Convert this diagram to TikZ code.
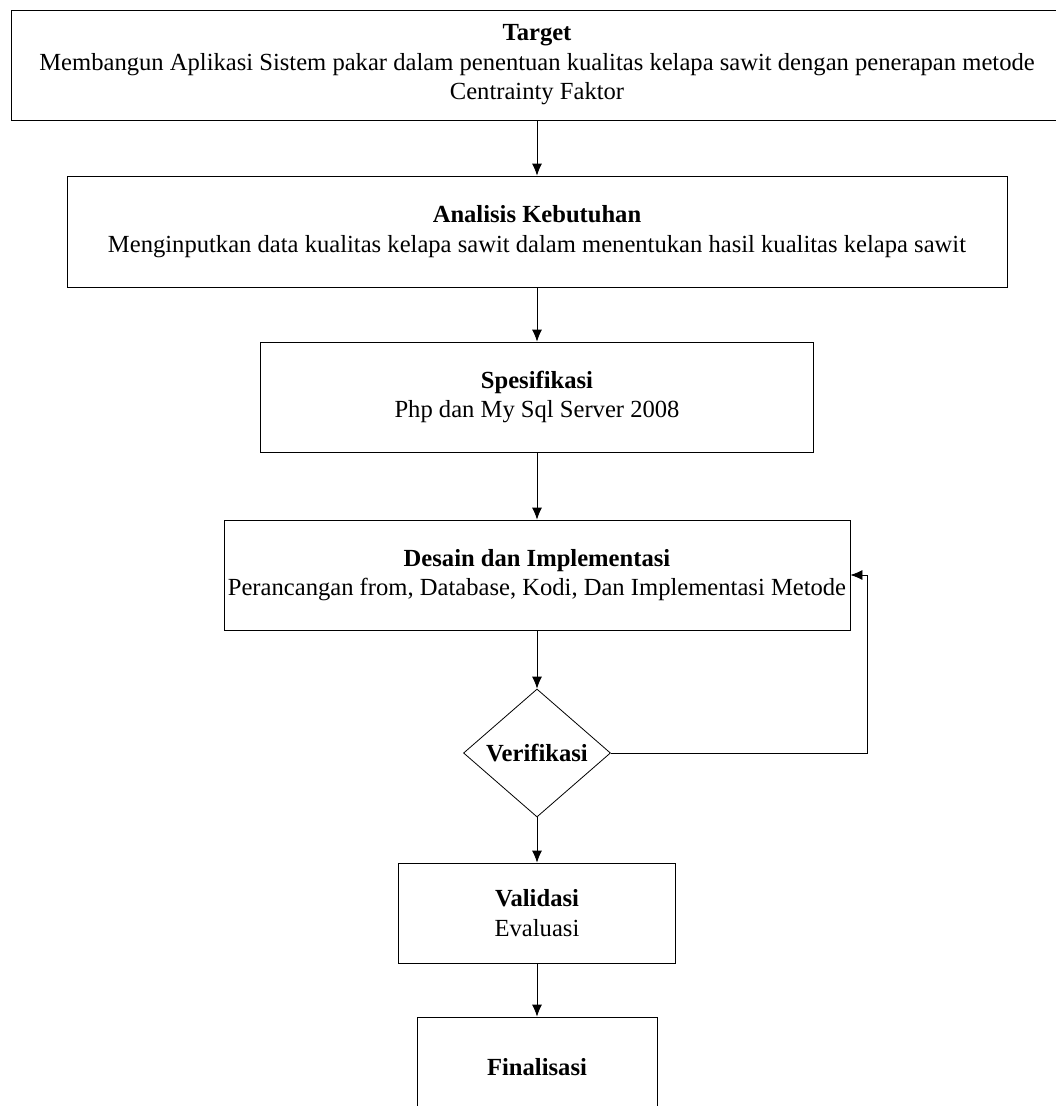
\documentclass[tikz,border=0pt]{standalone}
\usepackage{fontspec}
\setmainfont{Liberation Serif}
\usetikzlibrary{arrows.meta,shapes.geometric}

\begin{document}
\begin{tikzpicture}[x=1pt,y=-1pt, line width=0.8pt, >={Latex[length=12pt,width=10pt]},
    bnode/.style={draw,rectangle,align=center,inner sep=0pt,font=\fontsize{24.6}{29.5}\selectfont},
    dnode/.style={draw,diamond,inner sep=0pt,minimum width=147pt,minimum height=128pt,font=\fontsize{24.6}{29.5}\selectfont\bfseries}]
    \useasboundingbox (0,0) rectangle (1056,1106);
    \clip (0,0) rectangle (1056,1106);

    \node[bnode, minimum width=1052pt, minimum height=110pt] (t) at (537,65)
        {\textbf{Target}\\Membangun Aplikasi Sistem pakar dalam penentuan kualitas kelapa sawit dengan penerapan metode\\Centrainty Faktor};
    \node[bnode, minimum width=940pt, minimum height=111pt] (ak) at (537,231.5)
        {\textbf{Analisis Kebutuhan}\\Menginputkan data kualitas kelapa sawit dalam menentukan hasil kualitas kelapa sawit};
    \node[bnode, minimum width=553pt, minimum height=110pt] (s) at (537,397)
        {\textbf{Spesifikasi}\\Php dan My Sql Server 2008};
    \node[bnode, minimum width=626pt, minimum height=110pt] (d) at (537,575)
        {\textbf{Desain dan Implementasi}\\Perancangan from, Database, Kodi, Dan Implementasi Metode};
    \node[dnode] (v) at (537,753) {Verifikasi};
    \node[bnode, minimum width=277pt, minimum height=100pt] (va) at (537,913)
        {\textbf{Validasi}\\Evaluasi};
    \node[bnode, minimum width=240pt, minimum height=100pt] (f) at (537,1067)
        {\textbf{Finalisasi}};
    \coordinate (fb) at (867,575);

    \draw[->] (t) edge (ak);
    \draw[->] (ak) edge (s);
    \draw[->] (s) edge (d);
    \draw[->] (d) edge (v);
    \draw[->] (v) edge (va);
    \draw[->] (va) edge (f);

    % balik ke desain
    \draw[->] (v.east) -| (fb) -- (d.east);
\end{tikzpicture}
\end{document}
